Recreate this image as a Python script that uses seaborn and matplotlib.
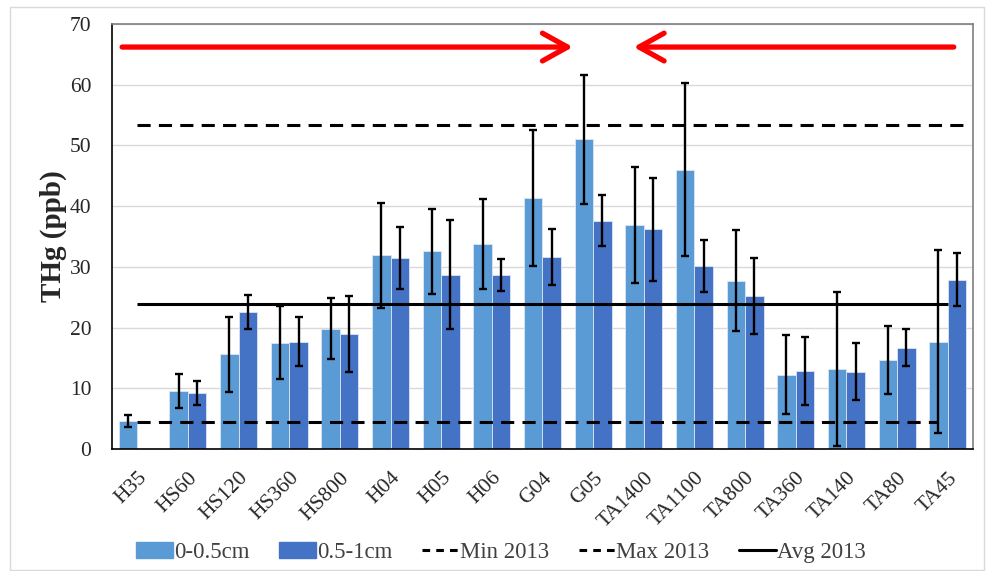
import numpy as np
import pandas as pd
import matplotlib
matplotlib.use("Agg")
import matplotlib.pyplot as plt
import matplotlib.patches as mpatches
import matplotlib.lines as mlines
import seaborn as sns

# =========================================
# DATA
# =========================================

sites = ['H35', 'HS60', 'HS120', 'HS360', 'HS800', 'H04', 'H05', 'H06', 'G04',
         'G05', 'TA1400', 'TA1100', 'TA800', 'TA360', 'TA140', 'TA80', 'TA45']

thg_top = [4.6, 9.5, 15.6, 17.5, 19.8, 31.9, 32.6, 33.7, 41.3,
           51.0, 36.9, 46.0, 27.7, 12.2, 13.2, 14.6, 17.7]
err_top = [1.0, 2.8, 6.2, 6.0, 5.0, 8.6, 7.0, 7.4, 11.2,
           10.6, 9.6, 14.2, 8.3, 6.5, 12.7, 5.6, 15.0]

thg_bot = [np.nan, 9.2, 22.5, 17.7, 18.9, 31.4, 28.7, 28.7, 31.6,
           37.6, 36.2, 30.1, 25.2, 12.8, 12.7, 16.7, 27.9]
err_bot = [np.nan, 2.0, 2.8, 4.0, 6.3, 5.1, 9.0, 2.6, 4.6,
           4.2, 8.5, 4.3, 6.2, 5.6, 4.7, 3.0, 4.3]

depth_labels = ['0-0.5cm', '0.5-1cm']
min_2013 = 4.4
max_2013 = 53.3
avg_2013 = 23.8

df = pd.DataFrame({
    'site': sites * 2,
    'depth': [depth_labels[0]] * len(sites) + [depth_labels[1]] * len(sites),
    'thg': thg_top + thg_bot,
})

# =========================================
# STYLE
# =========================================

sns.set_style("white")
plt.rcParams['font.family'] = ['Liberation Serif', 'DejaVu Serif']

LIGHT = '#5B9BD5'
DARK = '#4472C4'
BAR_W = 0.73

fig = plt.figure(figsize=(9.86, 5.71), dpi=100)
ax = fig.add_axes([0.1136, 0.2137, 0.8732, 0.7443])

sns.barplot(data=df, x='site', y='thg', hue='depth', order=sites,
            hue_order=depth_labels, palette=[LIGHT, DARK], width=BAR_W, saturation=1,
            errorbar=None, edgecolor='#dce6f2', linewidth=0.6, ax=ax, zorder=2)
if ax.get_legend() is not None:
    ax.get_legend().remove()

# error bars
pos = np.arange(len(sites))
for off, vals, errs in [(-BAR_W / 4, thg_top, err_top), (BAR_W / 4, thg_bot, err_bot)]:
    ax.errorbar(pos + off, vals, yerr=errs, fmt='none', ecolor='black',
                elinewidth=1.7, capsize=2.6, capthick=1.7, zorder=4)

# 2013 reference lines
ax.hlines(max_2013, 0, 16.3, colors='black', linestyles=(0, (4.3, 2.7)), lw=2.2, zorder=3)
ax.hlines(min_2013, 0, 15.8, colors='black', linestyles=(0, (4.3, 2.7)), lw=2.2, zorder=3)
ax.hlines(avg_2013, 0, 16.0, colors='black', lw=2.2, zorder=3)

# red flow arrows
arrow_kw = dict(arrowstyle='->,head_length=1.8,head_width=1.0', color='red', lw=3.8,
                shrinkA=0, shrinkB=0, mutation_scale=10, capstyle='round')
ax.annotate('', xy=(8.6, 66.2), xytext=(-0.3, 66.2), arrowprops=arrow_kw, zorder=5)
ax.annotate('', xy=(9.8, 66.2), xytext=(16.12, 66.2), arrowprops=arrow_kw, zorder=5)

# axes
ax.set_xlim(-0.5, len(sites) - 0.5)
ax.set_ylim(0, 70)
ax.set_yticks(range(0, 71, 10))
ax.yaxis.grid(True, color='#d9d9d9', lw=1)
ax.set_axisbelow(True)
ax.set_xlabel('')
ax.set_ylabel('THg (ppb)', fontsize=21, fontweight='bold', labelpad=2)

ax.set_xticks(pos)
ax.set_xticklabels(sites, rotation=45, ha='right', va='top', rotation_mode='anchor',
                   fontsize=15.5)
ax.set_xticks(np.arange(-0.5, len(sites), 1), minor=True)
ax.tick_params(axis='x', which='major', length=0, pad=14)
ax.tick_params(axis='x', which='minor', direction='in', length=4, color='#808080')
ax.tick_params(axis='y', direction='in', length=5, labelsize=15.5, pad=15)

for side in ['left', 'bottom']:
    ax.spines[side].set_color('black')
    ax.spines[side].set_linewidth(1.2)
for side in ['top', 'right']:
    ax.spines[side].set_color('#7f7f7f')
    ax.spines[side].set_linewidth(1.2)

# legend
handles = [
    mpatches.Patch(color=LIGHT, label=depth_labels[0]),
    mpatches.Patch(color=DARK, label=depth_labels[1]),
    mlines.Line2D([], [], color='black', lw=2.2, ls=(0, (2.5, 2.0)), label='Min 2013'),
    mlines.Line2D([], [], color='black', lw=2.2, ls=(0, (2.5, 2.0)), label='Max 2013'),
    mlines.Line2D([], [], color='black', lw=2.2, label='Avg 2013'),
]
leg = fig.legend(handles=handles, loc='center', bbox_to_anchor=(0.508, 0.033), ncol=5,
                 frameon=False, fontsize=16.5, handlelength=1.6, handletextpad=0.05,
                 columnspacing=1.3)
for t in leg.get_texts():
    t.set_color('#404040')

# outer chart border
fig.patches.append(mpatches.Rectangle((0.010, 0.002), 0.988, 0.985, transform=fig.transFigure,
                                      fill=False, edgecolor='#d9d9d9', lw=1))

fig.savefig('out.png', dpi=100)
